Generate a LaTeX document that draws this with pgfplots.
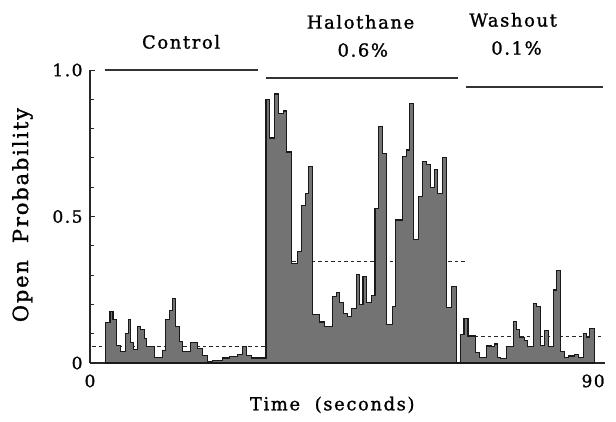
\documentclass[border=0pt]{standalone}
\usepackage{pgfplots}
\pgfplotsset{compat=1.18}
\usepackage{fontspec}
\setmainfont{DejaVu Serif}[LetterSpace=9, FakeBold=1.3]
\newcommand{\fs}[1]{\fontsize{#1}{#1}\selectfont}
\begin{document}
\begin{tikzpicture}
\begin{axis}[
  at={(0,0)}, anchor=south west,
  scale only axis, width=515.4bp, height=293bp,
  xmin=0, xmax=92.2, ymin=0, ymax=1,
  axis lines*=left,
  axis line style={line width=1.2pt, black!85},
  xtick={0,90}, xticklabels={0,90},
  ytick={0,0.5,1}, yticklabels={0,0.5,1.0},
  minor ytick={0.1,0.2,0.3,0.4,0.6,0.7,0.8,0.9},
  tick align=inside,
  major tick length=5bp, minor tick length=4bp,
  ytick style={black!85, line width=0.9pt},
  xtick style={draw=none},
  yticklabel style={font=\fs{17}, xshift=-4bp},
  xticklabel style={font=\fs{17}, yshift=-8bp},
  xlabel={Time\ \ (seconds)},
  ylabel={Open\ \ Probability},
  xlabel style={font=\fs{18}, at={(axis description cs:0.47,-0.143)}, anchor=center},
  ylabel style={font=\fs{21}, at={(axis description cs:-0.131,0.505)}, anchor=center, rotate=0},
  clip=false,
]
% mean levels (dashed)
\addplot[black!85, line width=1pt, dash pattern=on 3.5bp off 3bp] coordinates {(0.4,0.056) (31.5,0.056)};
\addplot[black!85, line width=1pt, dash pattern=on 3.5bp off 3bp] coordinates {(31.5,0.346) (67.4,0.346)};
\addplot[black!85, line width=1pt, dash pattern=on 3.5bp off 3bp] coordinates {(66.5,0.09) (91.4,0.09)};
% open probability histogram
\addplot[const plot, fill=black!55, draw=black!90, line width=1.1pt] coordinates {
(2.81,0) (2.81,0.137) (3.58,0.175) (4.12,0.15) (4.78,0.06) (5.38,0.04) (6.40,0.10) (6.81,0.15) (7.29,0.07) (7.71,0.045) (8.42,0.126) (9.09,0.113) (9.68,0.085) (10.16,0.055) (11.47,0.02) (12.90,0.042) (13.57,0.15) (14.16,0.18) (14.70,0.22) (15.36,0.124) (15.95,0.073) (16.49,0.039) (18.05,0.07) (19.18,0.05) (20.07,0.027) (20.97,0.005) (21.86,0.01) (23.66,0.017) (24.91,0.022) (26.34,0.03) (27.24,0.056) (27.96,0.027) (28.85,0.017)
(31.49,0.90) (32.08,0.768) (32.97,0.918) (33.69,0.853) (34.59,0.86) (35.13,0.72) (36.02,0.34) (37.10,0.38) (37.76,0.536) (38.48,0.58) (39.12,0.672) (39.84,0.164) (41.04,0.14) (41.94,0.125) (43.32,0.226) (44.09,0.24) (44.71,0.206) (45.34,0.17) (46.06,0.158) (46.83,0.187) (47.62,0.303) (48.21,0.20) (48.84,0.295) (49.46,0.206) (50.32,0.229) (50.99,0.528) (51.61,0.806) (52.33,0.716) (53.05,0.13) (54.07,0.192) (54.66,0.488) (55.86,0.704) (56.54,0.727) (57.11,0.886) (57.80,0.42) (58.84,0.568) (59.55,0.687) (60.27,0.678) (60.84,0.60) (61.56,0.66) (62.15,0.578) (63.03,0.70) (63.75,0.19) (64.70,0.26) (65.50,0)
(66.31,0.096) (66.90,0.152) (67.62,0.092) (68.94,0.035) (69.71,0.02) (70.91,0.058) (71.81,0.056) (72.28,0.065) (72.89,0.02) (73.48,0.016) (74.50,0.056) (75.68,0.141) (76.29,0.115) (76.88,0.088) (77.78,0.078) (78.26,0.056) (79.27,0.204) (79.87,0.192) (80.65,0.061) (81.36,0.11) (82.08,0.056) (82.85,0.249) (83.46,0.315) (84.23,0.039) (84.82,0.02) (85.54,0.024) (86.74,0.03) (87.46,0.02) (88.23,0.10) (88.83,0.088) (89.43,0.118) (90.20,0)
} \closedcycle;
% condition bars
\addplot[black!80, line width=1.6pt] coordinates {(2.6,1.0) (30.0,1.0)};
\addplot[black!80, line width=1.6pt] coordinates {(31.4,0.972) (65.9,0.972)};
\addplot[black!80, line width=1.6pt] coordinates {(67.2,0.942) (91.8,0.942)};
\node[font=\fs{18}] at (axis cs:16.3,1.096) {Control};
\node[font=\fs{18}] at (axis cs:48.4,1.164) {Halothane};
\node[font=\fs{18}] at (axis cs:48.8,1.068) {0.6\%};
\node[font=\fs{18}] at (axis cs:75.7,1.171) {Washout};
\node[font=\fs{18}] at (axis cs:76.3,1.075) {0.1\%};
\end{axis}
\pgfresetboundingbox
\path[use as bounding box] (-90bp,-59bp) rectangle (526bp,363bp);
\end{tikzpicture}
\end{document}
